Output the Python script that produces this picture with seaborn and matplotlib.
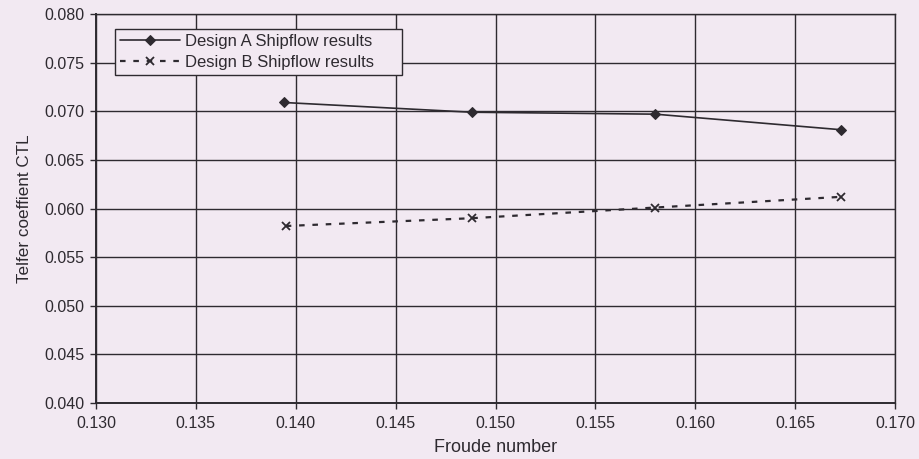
import matplotlib
matplotlib.use("Agg")
import matplotlib.pyplot as plt
import seaborn as sns
import pandas as pd

froude_a = [0.1394, 0.1488, 0.1580, 0.1673]
ctl_a = [0.0709, 0.0699, 0.0697, 0.0681]
froude_b = [0.1395, 0.1488, 0.1580, 0.1673]
ctl_b = [0.0582, 0.0590, 0.0601, 0.0612]
label_a = "Design A Shipflow results"
label_b = "Design B Shipflow results"
x_ticks = [0.130, 0.135, 0.140, 0.145, 0.150, 0.155, 0.160, 0.165, 0.170]
y_ticks = [0.040, 0.045, 0.050, 0.055, 0.060, 0.065, 0.070, 0.075, 0.080]

sns.set_theme(style="white")
plt.rcParams['font.family'] = ['Liberation Sans', 'DejaVu Sans']

bg = "#f2e9f2"
ink = "#2e2a30"

df_a = pd.DataFrame({"x": froude_a, "y": ctl_a})
df_b = pd.DataFrame({"x": froude_b, "y": ctl_b})

fig = plt.figure(figsize=(9.19, 4.59), dpi=100, facecolor=bg)
ax = fig.add_axes([96/919, 1 - 403/459, (895 - 96)/919, (403 - 14)/459])
ax.set_facecolor(bg)

sns.lineplot(data=df_a, x="x", y="y", ax=ax, color=ink, lw=1.2,
             marker="D", markersize=5, markeredgecolor=ink, label=label_a)
sns.lineplot(data=df_b, x="x", y="y", ax=ax, color=ink, lw=1.6,
             linestyle=(0, (2.5, 3.5)), marker="x", markersize=6,
             markeredgewidth=1.3, markeredgecolor=ink, label=label_b)

ax.set_xlim(0.130, 0.170)
ax.set_ylim(0.040, 0.080)
ax.set_xticks(x_ticks)
ax.set_yticks(y_ticks)
ax.set_xticklabels([f"{v:.3f}" for v in x_ticks])
ax.set_yticklabels([f"{v:.3f}" for v in y_ticks])
ax.grid(True, color=ink, lw=1.0)
ax.set_axisbelow(True)
for s in ax.spines.values():
    s.set_visible(True)
    s.set_color(ink)
    s.set_linewidth(1.0)
ax.spines['left'].set_linewidth(1.4)
ax.spines['bottom'].set_linewidth(1.4)
ax.tick_params(axis='both', direction='out', length=4.3, width=1.0, color=ink,
               labelsize=11.5, labelcolor=ink)
ax.tick_params(axis='y', pad=4)
ax.tick_params(axis='x', pad=5)
ax.tick_params(bottom=True, left=True)
ax.set_xlabel("Froude number", fontsize=13, color=ink, labelpad=6)
ax.set_ylabel("Telfer coeffient CTL", fontsize=12.3, color=ink, labelpad=9)

leg = ax.legend(loc="upper left", bbox_to_anchor=(0.0238, 0.5, 0.359, 0.461),
                mode="expand", frameon=True,
                fancybox=False, fontsize=12, borderpad=0.3, labelspacing=0.35,
                handlelength=3.6, handletextpad=0.3, borderaxespad=0)
leg.get_frame().set_edgecolor(ink)
leg.get_frame().set_facecolor(bg)
leg.get_frame().set_alpha(1)
leg.get_frame().set_linewidth(1.0)
for t in leg.get_texts():
    t.set_color(ink)

fig.savefig("out.png", dpi=100, facecolor=bg)
